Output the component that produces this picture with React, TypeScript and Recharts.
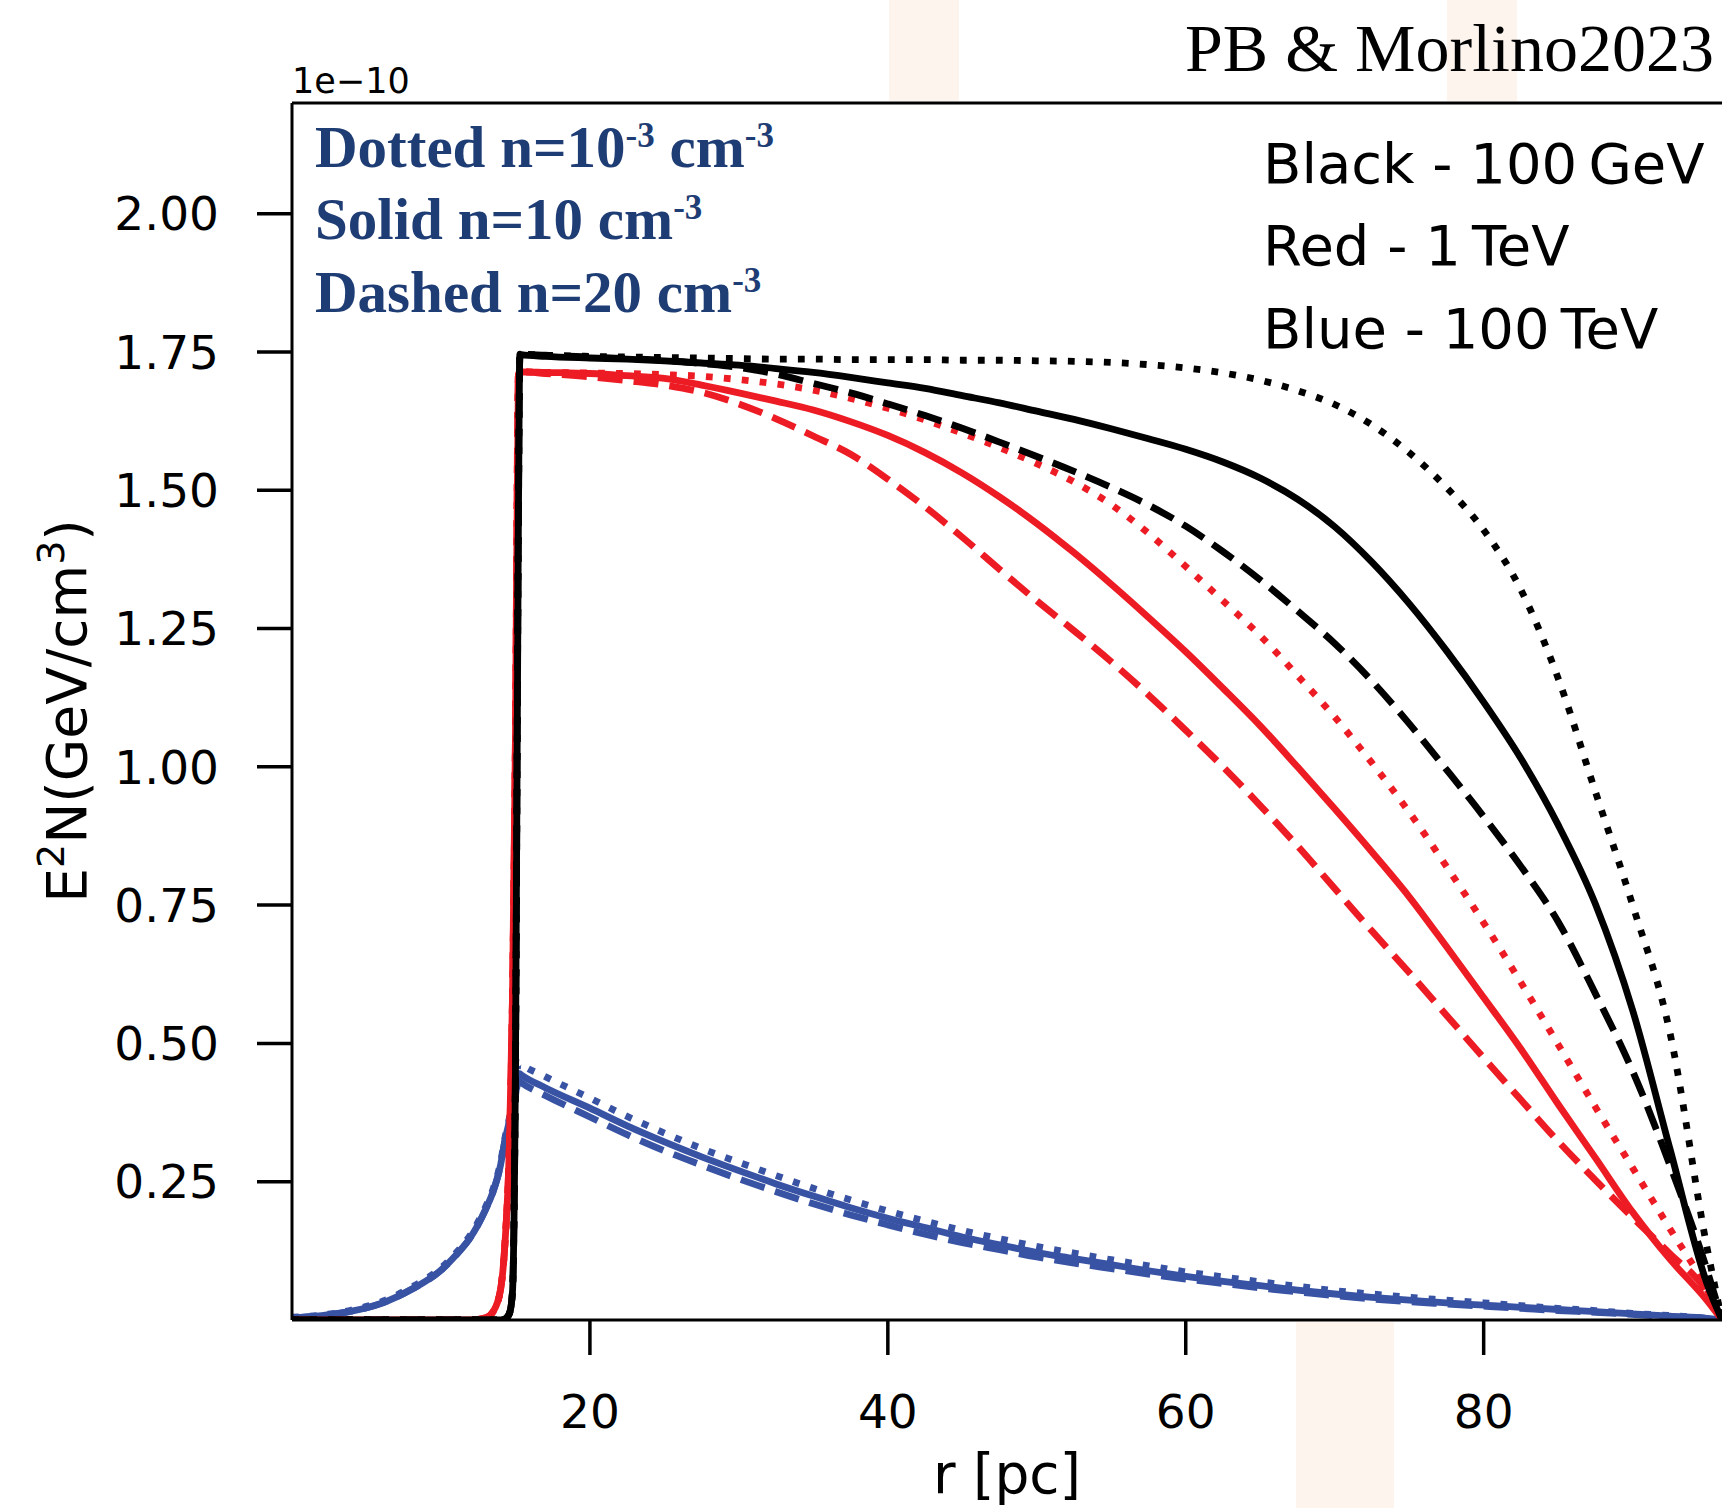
import { LineChart, Line, XAxis, YAxis, ReferenceLine } from "recharts";

// radius grid [pc]
const R = [
  0, 2, 4, 6, 8, 10, 11, 12, 13, 13.5, 14, 14.3, 14.6, 14.8, 15, 15.2, 15.3,
  15.4, 17, 20, 22.5, 25, 27.5, 30, 32.5, 35, 37.5, 40, 42.5, 45, 47.5, 50,
  52.5, 55, 57.5, 60, 62.5, 65, 67.5, 70, 72.5, 75, 77.5, 80, 82.5, 85, 87.5,
  90, 92.5, 95, 96,
];

// E^2 N in units of 1e-10 GeV/cm^3
// black = 100 GeV
const BLACK_SOLID = [
  0, 0, 0, 0, 0, 0, 0, 0, 0, 0, 0, 0.002, 0.012, 0.05, 0.45, 1.45, 1.746,
  1.745, 1.742, 1.739, 1.737, 1.734, 1.73, 1.726, 1.72, 1.713, 1.704, 1.694,
  1.684, 1.671, 1.658, 1.643, 1.628, 1.611, 1.593, 1.574, 1.551, 1.522, 1.484,
  1.434, 1.37, 1.295, 1.21, 1.117, 1.015, 0.895, 0.752, 0.56, 0.31, 0.065, 0,
];
const BLACK_DASHED = [
  0, 0, 0, 0, 0, 0, 0, 0, 0, 0, 0, 0.002, 0.012, 0.05, 0.45, 1.45, 1.746,
  1.746, 1.744, 1.741, 1.738, 1.735, 1.729, 1.722, 1.71, 1.693, 1.676, 1.656,
  1.635, 1.612, 1.587, 1.561, 1.534, 1.505, 1.473, 1.435, 1.389, 1.338, 1.282,
  1.223, 1.155, 1.078, 0.995, 0.91, 0.82, 0.72, 0.59, 0.45, 0.28, 0.09, 0,
];
const BLACK_DOTTED = [
  0, 0, 0, 0, 0, 0, 0, 0, 0, 0, 0, 0.002, 0.012, 0.05, 0.45, 1.45, 1.746,
  1.746, 1.744, 1.742, 1.741, 1.74, 1.739, 1.738, 1.737, 1.737, 1.736, 1.736,
  1.736, 1.735, 1.735, 1.734, 1.733, 1.731, 1.727, 1.721, 1.712, 1.699, 1.68,
  1.655, 1.618, 1.568, 1.505, 1.428, 1.32, 1.16, 0.955, 0.75, 0.52, 0.13, 0,
];
// red = 1 TeV
const RED_SOLID = [
  0, 0, 0, 0, 0, 0, 0, 0, 0.004, 0.015, 0.055, 0.14, 0.32, 0.58, 1.05, 1.71,
  1.714, 1.714, 1.713, 1.711, 1.707, 1.702, 1.69, 1.676, 1.661, 1.645, 1.624,
  1.599, 1.568, 1.531, 1.488, 1.44, 1.387, 1.33, 1.27, 1.208, 1.142, 1.074, 1.0,
  0.924, 0.846, 0.765, 0.675, 0.583, 0.49, 0.39, 0.293, 0.195, 0.11, 0.035, 0,
];
const RED_DASHED = [
  0, 0, 0, 0, 0, 0, 0, 0, 0.004, 0.015, 0.055, 0.14, 0.32, 0.58, 1.05, 1.71,
  1.714, 1.714, 1.711, 1.705, 1.698, 1.69, 1.677, 1.656, 1.629, 1.598, 1.565,
  1.52, 1.47, 1.415, 1.357, 1.3, 1.246, 1.19, 1.13, 1.066, 1.0, 0.93, 0.857,
  0.78, 0.703, 0.628, 0.551, 0.474, 0.398, 0.323, 0.253, 0.185, 0.12, 0.05, 0,
];
const RED_DOTTED = [
  0, 0, 0, 0, 0, 0, 0, 0, 0.004, 0.015, 0.055, 0.14, 0.32, 0.58, 1.05, 1.71,
  1.714, 1.714, 1.713, 1.712, 1.711, 1.709, 1.706, 1.7, 1.692, 1.681, 1.666,
  1.648, 1.627, 1.603, 1.577, 1.548, 1.515, 1.474, 1.422, 1.362, 1.3, 1.237,
  1.165, 1.09, 1.007, 0.918, 0.82, 0.718, 0.61, 0.498, 0.385, 0.275, 0.165,
  0.055, 0,
];
// blue = 100 TeV
const BLUE_SOLID = [
  0.004, 0.008, 0.016, 0.03, 0.055, 0.09, 0.117, 0.15, 0.2, 0.232, 0.28,
  0.325, 0.36, 0.385, 0.405, 0.446, 0.445, 0.443, 0.42, 0.383, 0.351, 0.322,
  0.295, 0.27, 0.246, 0.224, 0.203, 0.184, 0.167, 0.15, 0.136, 0.122, 0.111,
  0.1, 0.089, 0.079, 0.07, 0.062, 0.054, 0.047, 0.041, 0.036, 0.031, 0.027,
  0.023, 0.019, 0.015, 0.011, 0.007, 0.003, 0,
];
const BLUE_DASHED = [
  0.004, 0.008, 0.016, 0.03, 0.055, 0.09, 0.117, 0.15, 0.2, 0.232, 0.28,
  0.325, 0.36, 0.385, 0.405, 0.432, 0.431, 0.429, 0.406, 0.367, 0.335, 0.306,
  0.28, 0.255, 0.232, 0.21, 0.19, 0.172, 0.155, 0.14, 0.127, 0.114, 0.103,
  0.093, 0.083, 0.074, 0.066, 0.058, 0.051, 0.044, 0.038, 0.033, 0.029, 0.025,
  0.021, 0.017, 0.014, 0.01, 0.006, 0.002, 0,
];
const BLUE_DOTTED = [
  0.005, 0.009, 0.018, 0.033, 0.059, 0.094, 0.121, 0.155, 0.205, 0.237,
  0.285, 0.33, 0.366, 0.392, 0.415, 0.465, 0.464, 0.462, 0.44, 0.401, 0.368,
  0.338, 0.31, 0.285, 0.261, 0.238, 0.217, 0.197, 0.179, 0.162, 0.147, 0.133,
  0.121, 0.109, 0.098, 0.087, 0.078, 0.069, 0.061, 0.053, 0.047, 0.041, 0.036,
  0.031, 0.026, 0.021, 0.017, 0.012, 0.008, 0.003, 0,
];

const X_TICKS = [20, 40, 60, 80];
const Y_TICKS = [0.25, 0.5, 0.75, 1, 1.25, 1.5, 1.75, 2];

const COLORS = { black: "#000000", red: "#ed1c24", blue: "#3953a4" };
const DOTTED = "6.8 11.2";
const DASHED = "25 11";

const SERIES = [
  { key: "blueDotted", values: BLUE_DOTTED, color: COLORS.blue, dash: DOTTED },
  { key: "blueSolid", values: BLUE_SOLID, color: COLORS.blue, dash: undefined },
  { key: "blueDashed", values: BLUE_DASHED, color: COLORS.blue, dash: DASHED },
  { key: "redDotted", values: RED_DOTTED, color: COLORS.red, dash: DOTTED },
  { key: "redSolid", values: RED_SOLID, color: COLORS.red, dash: undefined },
  { key: "redDashed", values: RED_DASHED, color: COLORS.red, dash: DASHED },
  { key: "blackDotted", values: BLACK_DOTTED, color: COLORS.black, dash: DOTTED },
  { key: "blackSolid", values: BLACK_SOLID, color: COLORS.black, dash: undefined },
  { key: "blackDashed", values: BLACK_DASHED, color: COLORS.black, dash: DASHED },
];

const data = R.map((r, i) => {
  const row: Record<string, number> = { r };
  SERIES.forEach((s) => {
    row[s.key] = s.values[i];
  });
  return row;
});

const W = 1722;
const H = 1508;
const SANS = "DejaVu Sans";
const SERIF = "Liberation Serif";
const NAVY = "#1f3d75";

// faint background stripes outside the axes
const BANDS = [
  { left: 889, top: 0, width: 70, height: 101 },
  { left: 1447, top: 0, width: 70, height: 101 },
  { left: 1296, top: 1322, width: 98, height: 186 },
];

const tickStyle = { fontSize: 47, fill: "#000", fontFamily: SANS };

function DensityNote({ y, name, n, sup }: { y: number; name: string; n: string; sup?: string }) {
  return (
    <text x={315} y={y} fontFamily={SERIF} fontWeight="bold" fontSize={59} fill={NAVY}>
      {name + " n=" + n}
      {sup && (
        <tspan dy={-20} fontSize={35}>
          {sup}
        </tspan>
      )}
      <tspan dy={sup ? 20 : 0}>{" cm"}</tspan>
      <tspan dy={-20} fontSize={35}>
        -3
      </tspan>
    </text>
  );
}

export default function App() {
  return (
    <div
      style={{
        position: "absolute",
        left: 0,
        top: 0,
        width: W,
        height: H,
        background: "#fff",
        overflow: "hidden",
      }}
    >
      {BANDS.map((b, i) => (
        <div
          key={i}
          style={{ position: "absolute", ...b, background: "#fdf4ee" }}
        />
      ))}
      <div style={{ position: "absolute", left: 0, top: 0 }}>
        <LineChart
          width={W}
          height={H}
          data={data}
          margin={{ top: 103, right: 0, bottom: 0, left: 0 }}
        >
          <XAxis
            dataKey="r"
            type="number"
            domain={[0, 96]}
            ticks={X_TICKS}
            interval={0}
            allowDataOverflow
            height={188}
            tickSize={35}
            tickMargin={40}
            tick={tickStyle}
            axisLine={{ stroke: "#000", strokeWidth: 3 }}
            tickLine={{ stroke: "#000", strokeWidth: 3.5 }}
          />
          <YAxis
            type="number"
            domain={[0, 2.2]}
            ticks={Y_TICKS}
            interval={0}
            allowDataOverflow
            width={292}
            tickSize={35}
            tickMargin={38}
            tick={tickStyle}
            tickFormatter={(v: number) => v.toFixed(2)}
            axisLine={{ stroke: "#000", strokeWidth: 3 }}
            tickLine={{ stroke: "#000", strokeWidth: 3.5 }}
          />
          <ReferenceLine y={2.2} stroke="#000" strokeWidth={3} />
          {SERIES.map((s) => (
            <Line
              key={s.key}
              dataKey={s.key}
              type="monotone"
              stroke={s.color}
              strokeWidth={6.8}
              strokeDasharray={s.dash}
              dot={false}
              activeDot={false}
              isAnimationActive={false}
            />
          ))}
        </LineChart>
      </div>
      <svg
        width={W}
        height={H}
        style={{ position: "absolute", left: 0, top: 0, pointerEvents: "none" }}
      >
        <text x={1714} y={71} textAnchor="end" fontFamily={SERIF} fontSize={68} fill="#000">
          PB &amp; Morlino2023
        </text>
        <text x={292} y={93} fontFamily={SANS} fontSize={35} fill="#000">
          1e{"\u2212"}10
        </text>

        <DensityNote y={167} name="Dotted" n="10" sup="-3" />
        <DensityNote y={239} name="Solid" n="10" />
        <DensityNote y={312} name="Dashed" n="20" />

        <text fontFamily={SANS} fontSize={56} fill="#000">
          <tspan x={1263} y={183}>Black - 100{"\u2009"}GeV</tspan>
          <tspan x={1263} y={265}>Red - 1{"\u2009"}TeV</tspan>
          <tspan x={1263} y={348}>Blue - 100{"\u2009"}TeV</tspan>
        </text>

        <text x={1007} y={1493} textAnchor="middle" fontFamily={SANS} fontSize={55} fill="#000">
          r [pc]
        </text>
        <text
          x={86}
          y={711}
          textAnchor="middle"
          transform="rotate(-90, 86, 711)"
          fontFamily={SANS}
          fontSize={55}
          fill="#000"
        >
          E
          <tspan dy={-22} fontSize={38}>
            2
          </tspan>
          <tspan dy={22}>N(GeV/cm</tspan>
          <tspan dy={-22} fontSize={38}>
            3
          </tspan>
          <tspan dy={22}>)</tspan>
        </text>
      </svg>
    </div>
  );
}
